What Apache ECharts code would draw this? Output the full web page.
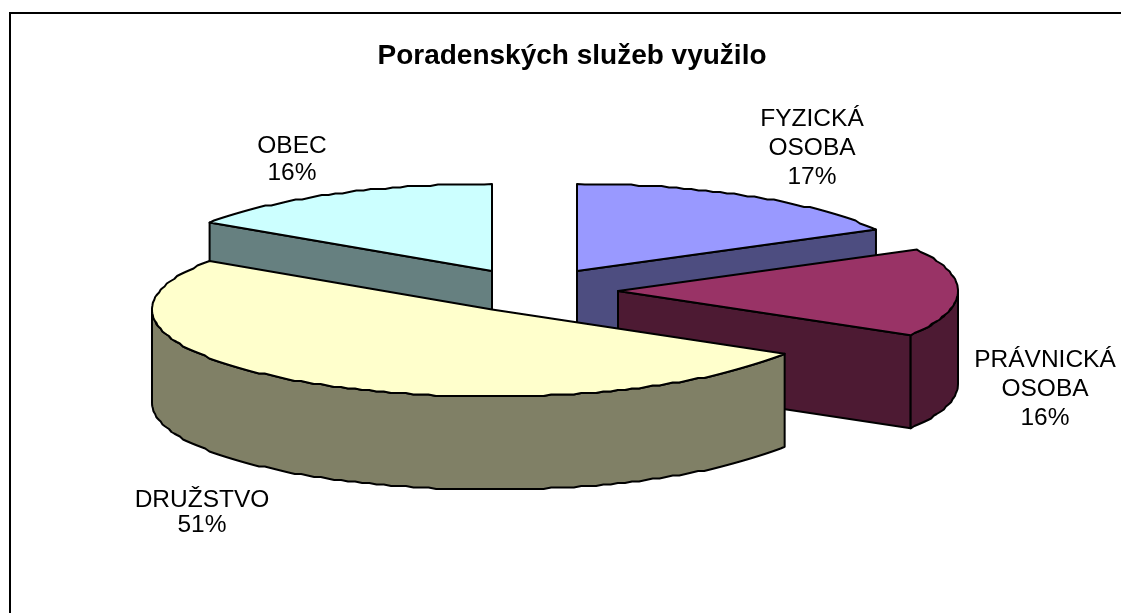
<!DOCTYPE html>
<html><head><meta charset="utf-8">
<style>html,body{margin:0;padding:0;background:#fff}#c{width:1121px;height:613px}</style>
<script src="https://cdn.jsdelivr.net/npm/echarts@6/dist/echarts.min.js"></script>
</head><body><div id="c"></div>
<script>
const chartTitle = 'Poradenských služeb využilo';
const categories = ['FYZICKÁ\nOSOBA', 'PRÁVNICKÁ\nOSOBA', 'DRUŽSTVO', 'OBEC'];
const values = [17.1, 16.4, 50.9, 15.6];

const topColors = ['#9999FF', '#993366', '#FFFFCC', '#CCFFFF'];
const sideColors = ['#4D4D80', '#4D1A33', '#808066', '#668080'];
const labelCenters = [[812, 148], [1045, 389.5], [202, 513], [292, 160]];
const explodeOffsets = [[42.5, -18.5], [83.5, 1.5], [-42.5, 20], [-42.5, -18.5]];
const paintOrder = [1, 2, 3, 0];
const pie = { cx: 534.5, cy: 289.5, rx: 340, ry: 87, depth: 93, step: 1.3, grid: 1.5 };
const font = 'Liberation Sans, Arial, sans-serif';

const total = values.reduce((a, b) => a + b, 0);
const rad = d => d * Math.PI / 180;

function arc(cx, cy, t0, t1) {
  const pts = [];
  const n = Math.max(1, Math.round((t1 - t0) / pie.step));
  for (let i = 0; i <= n; i++) {
    const t = rad(t0 + (t1 - t0) * i / n);
    let x = cx + pie.rx * Math.sin(t), y = cy - pie.ry * Math.cos(t);
    if (i > 0 && i < n) {
      y = Math.round(y / pie.grid) * pie.grid;
    }
    pts.push([x, y]);
  }
  return pts;
}

function renderSlice(params, api) {
  const i = api.value(0), val = api.value(1);
  let before = 0;
  for (let k = 0; k < i; k++) before += values[k];
  const t0 = before / total * 360, t1 = (before + val) / total * 360;
  const ax = pie.cx + explodeOffsets[i][0];
  const ay = pie.cy + explodeOffsets[i][1];
  const d = pie.depth, z = paintOrder[i] * 10;
  const edge = { stroke: '#000', lineWidth: 2, lineJoin: 'round' };
  const kids = [];
  const poly = (points, fill, zz) => kids.push({ type: 'polygon', z2: z + zz, shape: { points }, style: { fill, ...edge } });
  const wall = t => {
    const p = [ax + pie.rx * Math.sin(rad(t)), ay - pie.ry * Math.cos(rad(t))];
    return [[ax, ay], p, [p[0], p[1] + d], [ax, ay + d]];
  };
  // radial walls that face the viewer
  const facing = t => Math.sin(rad(t));
  if (t1 < 360 && facing(t1) > 0) poly(wall(t1), sideColors[i], 1);
  if (t0 > 0 && facing(t0) < 0) poly(wall(t0), sideColors[i], 1);
  // outer rim on the front half
  const r0 = Math.max(t0, 90), r1 = Math.min(t1, 270);
  if (r1 > r0) {
    const up = arc(ax, ay, r0, r1), low = arc(ax, ay + d, r0, r1).reverse();
    poly(up.concat(low), sideColors[i], 2);
  }
  // top face
  poly([[ax, ay]].concat(arc(ax, ay, t0, t1)), topColors[i], 3);
  return { type: 'group', children: kids };
}

function renderLabel(params, api) {
  const i = api.value(0), val = api.value(1);
  return {
    type: 'text', z2: 100, x: labelCenters[i][0], y: labelCenters[i][1],
    style: {
      text: categories[i] + '\n' + Math.round(val) + '%',
      align: 'center', verticalAlign: 'middle',
      font: '24.5px ' + font, lineHeight: i === 2 ? 25 : (i === 3 ? 27 : 29), fill: '#000'
    }
  };
}

const rows = values.map((v, i) => [i, v]);
const chart = echarts.init(document.getElementById('c'));
chart.setOption({
  animation: false,
  backgroundColor: '#fff',
  title: {
    text: chartTitle, left: 567, top: 37, textAlign: 'center',
    textStyle: { fontFamily: font, fontWeight: 'bold', fontSize: 28, color: '#000' }
  },
  graphic: [{ type: 'rect', shape: { x: 10, y: 13, width: 1300, height: 800 }, style: { fill: 'transparent', stroke: '#000', lineWidth: 2 }, silent: true }],
  series: [
    { type: 'custom', coordinateSystem: 'none', data: rows, renderItem: renderSlice, silent: true },
    { type: 'custom', coordinateSystem: 'none', data: rows, renderItem: renderLabel, silent: true, z: 5 }
  ]
});
</script></body></html>
